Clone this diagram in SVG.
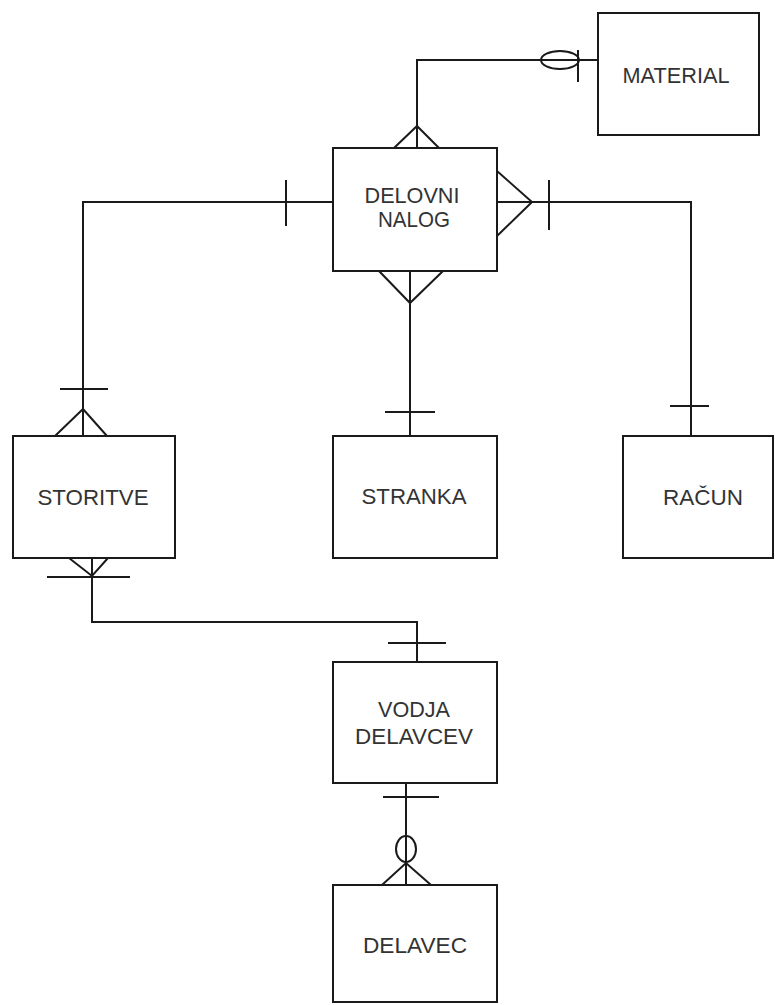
<svg xmlns="http://www.w3.org/2000/svg" width="775" height="1005" viewBox="0 0 775 1005">
<style>
.box{fill:#fff;stroke:#1a1a1a;stroke-width:2}
.ln{fill:none;stroke:#1a1a1a;stroke-width:2}
.t{font-family:"Liberation Sans",Arial,sans-serif;font-size:22px;fill:#333;text-anchor:middle}
</style>
<rect width="775" height="1005" fill="#fff"/>
<g id="connectors">
<!-- DELOVNI - MATERIAL -->
<path class="ln" d="M598 60 H417 V148"/>
<path class="ln" d="M394 148 L417 126 L439 148"/>
<ellipse class="ln" cx="560" cy="60" rx="19" ry="9"/>
<path class="ln" d="M578 50 V82"/>
<!-- DELOVNI - STORITVE -->
<path class="ln" d="M333 202 H83 V436"/>
<path class="ln" d="M286 180 V226"/>
<path class="ln" d="M60 389 H108"/>
<path class="ln" d="M55 436 L83 409 L107 436"/>
<!-- DELOVNI - RACUN -->
<path class="ln" d="M497 202 H691 V436"/>
<path class="ln" d="M497 171 L532 202 L497 236"/>
<path class="ln" d="M549 180 V230"/>
<path class="ln" d="M670 406 H709"/>
<!-- DELOVNI - STRANKA -->
<path class="ln" d="M410 271 V436"/>
<path class="ln" d="M379 271 L410 303 L443 271"/>
<path class="ln" d="M385 412 H435"/>
<!-- STORITVE - VODJA -->
<path class="ln" d="M92 558 V622 H417 V662"/>
<path class="ln" d="M69 558 L92 576 L108 558"/>
<path class="ln" d="M47 577 H130"/>
<path class="ln" d="M388 643 H446"/>
<!-- VODJA - DELAVEC -->
<path class="ln" d="M406 783 V885"/>
<path class="ln" d="M383 797 H439"/>
<ellipse class="ln" cx="406" cy="849" rx="10" ry="13"/>
<path class="ln" d="M382 885 L406 863 L431 885"/>
</g>
<g id="material">
<rect class="box" x="598" y="13" width="161" height="122"/>
<text class="t" x="676" y="83" textLength="107" lengthAdjust="spacingAndGlyphs">MATERIAL</text>
</g>
<g id="delovni-nalog">
<rect class="box" x="333" y="148" width="164" height="123"/>
<text class="t" x="412" y="203" textLength="95" lengthAdjust="spacingAndGlyphs">DELOVNI</text>
<text class="t" x="414" y="227" textLength="72" lengthAdjust="spacingAndGlyphs">NALOG</text>
</g>
<g id="storitve">
<rect class="box" x="13" y="436" width="162" height="122"/>
<text class="t" x="93" y="505" textLength="111" lengthAdjust="spacingAndGlyphs">STORITVE</text>
</g>
<g id="stranka">
<rect class="box" x="333" y="436" width="164" height="122"/>
<text class="t" x="414" y="504" textLength="105" lengthAdjust="spacingAndGlyphs">STRANKA</text>
</g>
<g id="racun">
<rect class="box" x="623" y="436" width="150" height="122"/>
<text class="t" x="703" y="505" textLength="80" lengthAdjust="spacingAndGlyphs">RAČUN</text>
</g>
<g id="vodja-delavcev">
<rect class="box" x="333" y="662" width="164" height="121"/>
<text class="t" x="414" y="717" textLength="72" lengthAdjust="spacingAndGlyphs">VODJA</text>
<text class="t" x="414" y="744" textLength="118" lengthAdjust="spacingAndGlyphs">DELAVCEV</text>
</g>
<g id="delavec">
<rect class="box" x="333" y="885" width="164" height="117"/>
<text class="t" x="415" y="953" textLength="104" lengthAdjust="spacingAndGlyphs">DELAVEC</text>
</g>
</svg>
